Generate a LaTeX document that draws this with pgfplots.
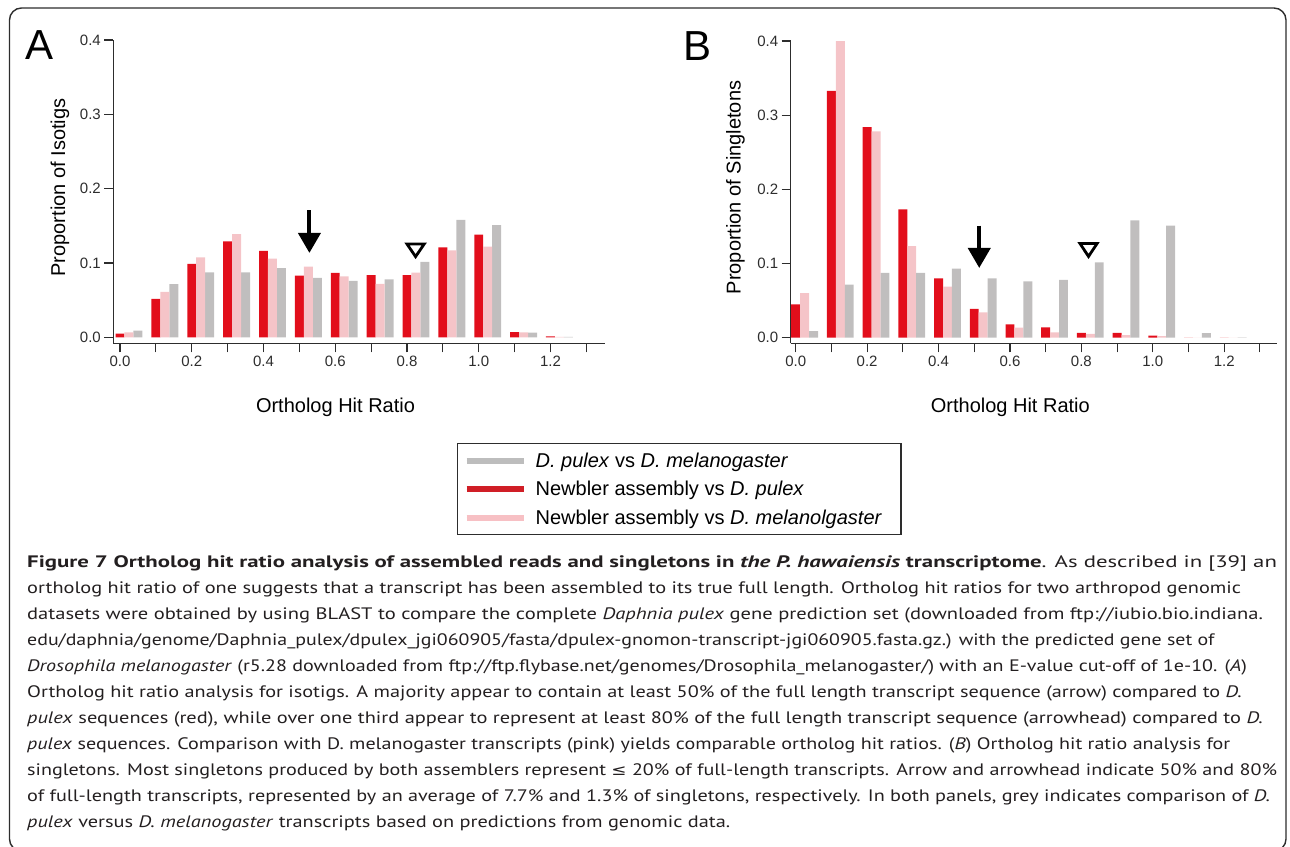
\documentclass[border=0pt]{standalone}
\usepackage{graphicx}
\usepackage{fontspec}
\setmainfont{Liberation Sans}
\newfontfamily\capfont{PT Sans}
\newfontfamily\symfont{DejaVu Sans}
\usepackage{pgfplots}
\usepackage{pgfplotstable}
\pgfplotsset{compat=1.18}
\usetikzlibrary{arrows.meta}
\definecolor{cred}{RGB}{226,14,27}
\definecolor{cpink}{RGB}{245,196,200}
\definecolor{cgrey}{RGB}{192,190,190}
\definecolor{lred}{RGB}{208,30,38}
\definecolor{lgrey}{RGB}{189,189,189}
\definecolor{lpink}{RGB}{247,192,196}
\definecolor{axgray}{RGB}{45,45,45}
\definecolor{captext}{RGB}{35,31,32}

% x = ortholog hit ratio bin, red = Newbler vs D. pulex, pink = Newbler vs D. melanogaster, grey = D. pulex vs D. melanogaster
\pgfplotstableread{
x    red     pink    grey
0.0  0.0050  0.0067  0.0088
0.1  0.0516  0.0610  0.0715
0.2  0.0987  0.1076  0.0875
0.3  0.1290  0.1387  0.0875
0.4  0.1164  0.1058  0.0930
0.5  0.0831  0.0951  0.0800
0.6  0.0867  0.0818  0.0760
0.7  0.0836  0.0720  0.0780
0.8  0.0836  0.0870  0.1015
0.9  0.1210  0.1170  0.1580
1.0  0.1380  0.1220  0.1510
1.1  0.0070  0.0067  0.0062
1.2  0.0013  0.0005  0.0004
}\isotigs
\pgfplotstableread{
x    red     pink    grey
0.0  0.0450  0.0600  0.0088
0.1  0.3326  0.4000  0.0715
0.2  0.2840  0.2780  0.0875
0.3  0.1730  0.1236  0.0875
0.4  0.0800  0.0688  0.0930
0.5  0.0387  0.0340  0.0800
0.6  0.0180  0.0135  0.0760
0.7  0.0140  0.0070  0.0780
0.8  0.0063  0.0050  0.1015
0.9  0.0063  0.0036  0.1580
1.0  0.0027  0.0020  0.1510
1.1  0.0000  0.0000  0.0062
1.2  0.0000  0.0000  0.0004
}\singletons

\pgfplotsset{
  panel/.style={
    scale only axis,
    axis lines=left,
    axis line style={-, line width=1.3pt, axgray},
    xmax=1.352, ymax=0.4,
    tick align=outside,
    major tick length=9pt, minor tick length=9pt,
    every tick/.style={line width=1.1pt, axgray},
    minor tick style={line width=1.1pt, axgray},
    ytick={0,0.1,0.2,0.3,0.4},
    xtick={0,0.2,0.4,0.6,0.8,1.0,1.2},
    minor xtick={0.1,0.3,0.5,0.7,0.9,1.1,1.3},
    /pgf/number format/.cd, fixed, fixed zerofill, precision=1, assume math mode=true,
    /pgfplots/.cd,
    tick label style={font=\fontsize{15}{18}\selectfont, text=axgray},
    label style={font=\fontsize{20}{24}\selectfont, text=black},
    xlabel={Ortholog Hit Ratio},
  },
  barred/.style={ybar, bar width=0.025, bar shift=0, fill=cred, draw=none},
  barpink/.style={ybar, bar width=0.025, bar shift=0.025, fill=cpink, draw=none},
  bargrey/.style={ybar, bar width=0.025, bar shift=0.05, fill=cgrey, draw=none},
}

\newcommand\capsetup{\capfont\fontsize{16.6}{20}\selectfont\color{captext}}
\newcommand\capline[3]{\node[anchor=base west, inner sep=0] at (27pt,-#1pt) {\resizebox{#2pt}{\height}{\capsetup #3}};}

\begin{document}
\begin{tikzpicture}
\path[use as bounding box] (0pt,0pt) rectangle (1290pt,-846pt);
\draw[line width=1.4pt, axgray, rounded corners=12pt] (9.5pt,-8pt) rectangle (1286pt,-851pt);

% ---------------- Panel A ----------------
\begin{axis}[panel,
  at={(113.3pt,-343.3pt)}, anchor=south west,
  width=491.7pt, height=303.3pt,
  xmin=-0.0187, ymin=-0.0081,
  ylabel={Proportion of Isotigs},
  xlabel style={at={(axis description cs:0.4519,-0.21)}, anchor=center},
  ylabel style={at={(axis description cs:-0.1084,0.5137)}, anchor=center},
  legend style={at={(axis description cs:0.699,-0.3287)}, anchor=north west,
    draw=axgray, line width=1.3pt, inner xsep=6pt, inner ysep=7pt,
    row sep=8.5pt, font=\fontsize{20}{24}\selectfont,
    /tikz/every odd column/.append style={column sep=7pt}},
  legend cell align=left,
]
\addplot[bargrey, legend image code/.code={\draw[draw=lgrey, line width=6pt] (0pt,0pt) -- (57pt,0pt);}] table[x=x, y=grey] {\isotigs};
\addlegendentry{\textit{D. pulex} vs \textit{D. melanogaster}}
\addplot[barred, legend image code/.code={\draw[draw=lred, line width=6pt] (0pt,0pt) -- (57pt,0pt);}] table[x=x, y=red] {\isotigs};
\addlegendentry{Newbler assembly vs \textit{D. pulex}}
\addplot[barpink, legend image code/.code={\draw[draw=lpink, line width=6pt] (0pt,0pt) -- (57pt,0pt);}] table[x=x, y=pink] {\isotigs};
\addlegendentry{Newbler assembly vs \textit{D. melanolgaster}\hspace*{11pt}}
\draw[black, line width=4pt, -{Triangle[width=22pt, length=20pt]}] (axis cs:0.528,0.171) -- (axis cs:0.528,0.1135);
\draw[black, line width=2.8pt, line join=miter] (axis cs:0.800,0.1255) -- (axis cs:0.848,0.1255) -- (axis cs:0.824,0.1085) -- cycle;
\end{axis}

% ---------------- Panel B ----------------
\begin{axis}[panel,
  at={(790.7pt,-343.3pt)}, anchor=south west,
  width=486pt, height=302.3pt,
  xmin=-0.014, xmax=1.347, ymin=-0.0076,
  ylabel={Proportion of Singletons},
  xlabel style={at={(axis description cs:0.4519,-0.2107)}, anchor=center},
  ylabel style={at={(axis description cs:-0.1138,0.5154)}, anchor=center},
]
\addplot[barred] table[x=x, y=red] {\singletons};
\addplot[barpink] table[x=x, y=pink] {\singletons};
\addplot[bargrey] table[x=x, y=grey] {\singletons};
\draw[black, line width=4pt, -{Triangle[width=22pt, length=20pt]}] (axis cs:0.514,0.151) -- (axis cs:0.514,0.094);
\draw[black, line width=2.8pt, line join=miter] (axis cs:0.796,0.127) -- (axis cs:0.844,0.127) -- (axis cs:0.820,0.1095) -- cycle;
\end{axis}

\node[inner sep=0, font=\fontsize{42}{42}\selectfont] at (40pt,-45.5pt) {A};
\node[inner sep=0, font=\fontsize{42}{42}\selectfont] at (697.7pt,-46pt) {B};

% ---------------- Caption ----------------
\capline{567}{1249.7}{{\bfseries Figure 7 Ortholog hit ratio analysis of assembled reads and singletons in \textit{the P. hawaiensis} transcriptome}. As described in [39] an}
\capline{593}{1213.7}{ortholog hit ratio of one suggests that a transcript has been assembled to its true full length. Ortholog hit ratios for two arthropod genomic}
\capline{619}{1235.7}{datasets were obtained by using BLAST to compare the complete \textit{Daphnia pulex} gene prediction set (downloaded from ftp://iubio.bio.indiana.}
\capline{645}{1187}{edu/daphnia/genome/Daphnia\_pulex/dpulex\_jgi060905/fasta/dpulex-gnomon-transcript-jgi060905.fasta.gz.) with the predicted gene set of}
\capline{671}{1219.7}{\textit{Drosophila melanogaster} (r5.28 downloaded from ftp://ftp.flybase.net/genomes/Drosophila\_melanogaster/) with an E-value cut-off of 1e-10. (\textit{A})}
\capline{697}{1214.7}{Ortholog hit ratio analysis for isotigs. A majority appear to contain at least 50\% of the full length transcript sequence (arrow) compared to \textit{D.}}
\capline{723}{1235.7}{\textit{pulex} sequences (red), while over one third appear to represent at least 80\% of the full length transcript sequence (arrowhead) compared to \textit{D.}}
\capline{749}{1203}{\textit{pulex} sequences. Comparison with D. melanogaster transcripts (pink) yields comparable ortholog hit ratios. (\textit{B}) Ortholog hit ratio analysis for}
\capline{775}{1249.7}{singletons. Most singletons produced by both assemblers represent {\symfont\fontsize{15}{18}\selectfont ≤} 20\% of full-length transcripts. Arrow and arrowhead indicate 50\% and 80\%}
\capline{801}{1243}{of full-length transcripts, represented by an average of 7.7\% and 1.3\% of singletons, respectively. In both panels, grey indicates comparison of \textit{D.}}
\capline{827}{703}{\textit{pulex} versus \textit{D. melanogaster} transcripts based on predictions from genomic data.}
\end{tikzpicture}
\end{document}
